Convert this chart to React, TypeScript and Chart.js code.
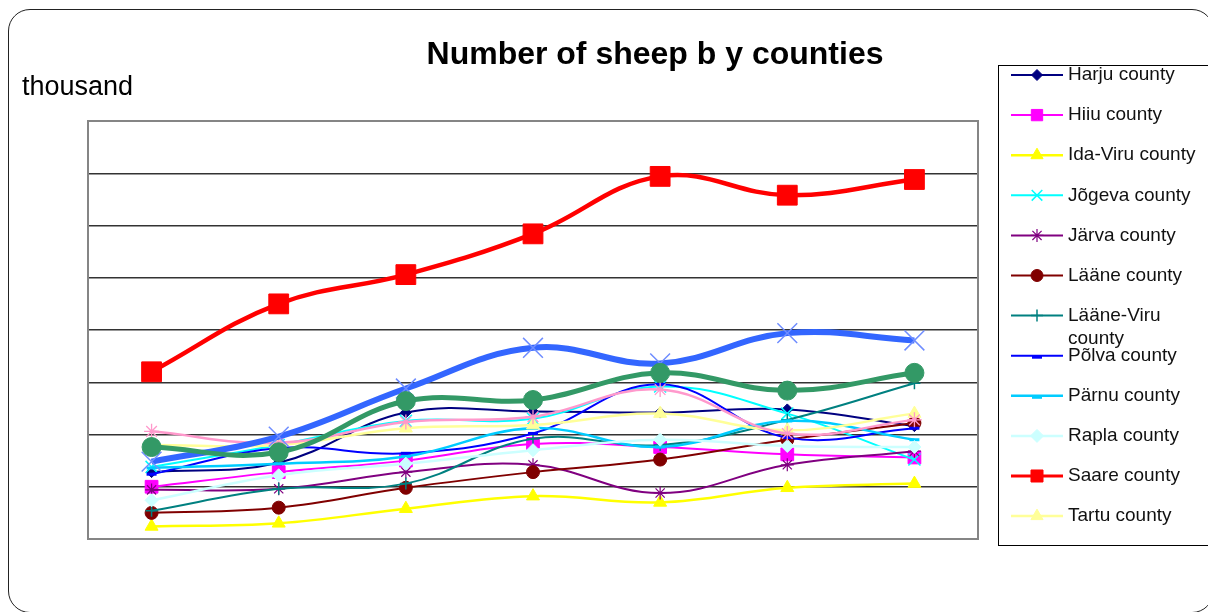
import React, { useEffect, useRef } from "react";
import { Chart, registerables } from "chart.js";
import { drawPoint } from "chart.js/helpers";

Chart.register(...registerables);

// Years of the survey (axis labels are not shown on the chart)
const years = ["2003", "2004", "2005", "2006", "2007", "2008", "2009"];

// Number of sheep, thousand
const harju = [6.4, 7.3, 12.1, 12.2, 12.1, 12.4, 10.8];
const hiiu = [5.0, 6.4, 7.5, 9.1, 8.8, 8.1, 7.8];
const idaViru = [1.2, 1.5, 2.9, 4.1, 3.5, 4.9, 5.3];
const jogeva = [6.9, 9.0, 11.3, 11.5, 14.6, 12.0, 7.6];
const jarva = [4.7, 4.8, 6.4, 7.1, 4.4, 7.1, 8.4];
const laane = [2.5, 3.0, 4.9, 6.4, 7.6, 9.5, 11.1];
const laaneViru = [2.7, 4.8, 5.3, 9.6, 9.0, 11.4, 14.9];
const polva = [6.2, 8.7, 8.2, 10.1, 14.8, 9.7, 10.6];
const parnu = [6.8, 7.2, 7.9, 10.6, 8.8, 11.3, 9.5];
const rapla = [3.7, 6.1, 7.2, 8.5, 9.5, 8.9, 8.8];
const saare = [16.0, 22.5, 25.3, 29.2, 34.7, 32.9, 34.4];
const tartu = [9.0, 9.0, 10.6, 10.9, 12.0, 10.4, 12.0];
const valga = [10.3, 9.2, 11.2, 11.7, 14.3, 10.1, 11.4];
const viljandi = [7.4, 9.8, 14.4, 18.3, 16.8, 19.7, 19.0];
const voru = [8.8, 8.3, 13.2, 13.3, 15.9, 14.2, 15.9];

// y axis range, thousand
const yMin = 0;
const yMax = 40;
const yStep = 5;

const chartTitle = "Number of sheep b y counties";
const unitLabel = "thousand";

type SeriesStyle = {
  label: string;
  data: number[];
  color: string;
  markerColor?: string;
  width: number;
  marker: string;
  radius: number;
  legendRadius: number;
  markerWidth: number;
};

const series: SeriesStyle[] = [
  { label: "Harju county", data: harju, color: "#000080", width: 2, marker: "rectRot", radius: 5.5, legendRadius: 5.5, markerWidth: 1 },
  { label: "Hiiu county", data: hiiu, color: "#FF00FF", width: 2, marker: "rect", radius: 9, legendRadius: 8, markerWidth: 1 },
  { label: "Ida-Viru county", data: idaViru, color: "#FFFF00", width: 2.5, marker: "triangle", radius: 7.5, legendRadius: 7, markerWidth: 1 },
  { label: "Jõgeva county", data: jogeva, color: "#00FFFF", width: 2, marker: "crossRot", radius: 8.5, legendRadius: 7.5, markerWidth: 1.5 },
  { label: "Järva county", data: jarva, color: "#800080", width: 2, marker: "star", radius: 6.5, legendRadius: 6.5, markerWidth: 1.2 },
  { label: "Lääne county", data: laane, color: "#800000", width: 2, marker: "circle", radius: 6.5, legendRadius: 6, markerWidth: 1 },
  { label: "Lääne-Viru county", data: laaneViru, color: "#008080", width: 2, marker: "cross", radius: 6, legendRadius: 6, markerWidth: 1.5 },
  { label: "Põlva county", data: polva, color: "#0000FF", width: 2, marker: "line", radius: 5, legendRadius: 5, markerWidth: 3 },
  { label: "Pärnu county", data: parnu, color: "#00CCFF", width: 2.5, marker: "line", radius: 5, legendRadius: 5, markerWidth: 3 },
  { label: "Rapla county", data: rapla, color: "#CCFFFF", width: 2.5, marker: "rectRot", radius: 6.5, legendRadius: 6.5, markerWidth: 1 },
  { label: "Saare county", data: saare, color: "#FF0000", width: 4.5, marker: "rect", radius: 14, legendRadius: 8.5, markerWidth: 1 },
  { label: "Tartu county", data: tartu, color: "#FFFF99", width: 2.5, marker: "triangle", radius: 7.5, legendRadius: 7, markerWidth: 1 },
  { label: "Valga county", data: valga, color: "#FF99CC", width: 2.5, marker: "star", radius: 7.5, legendRadius: 7, markerWidth: 1.3 },
  { label: "Viljandi county", data: viljandi, color: "#3366FF", markerColor: "#6F8DFF", width: 6, marker: "crossRot", radius: 14, legendRadius: 8, markerWidth: 1.5 },
  { label: "Võru county", data: voru, color: "#339966", width: 5, marker: "circle", radius: 9.5, legendRadius: 7, markerWidth: 1 },
];

// Number of entries that fit inside the legend box
const legendCount = 12;

const FONT = '"Liberation Sans", Arial, Helvetica, sans-serif';

const decorPlugin = {
  id: "decor",
  beforeDatasetsDraw(chart: any) {
    const { ctx, chartArea } = chart;
    ctx.save();
    ctx.strokeStyle = "#858585";
    ctx.lineWidth = 2;
    ctx.strokeRect(chartArea.left, chartArea.top, chartArea.right - chartArea.left, chartArea.bottom - chartArea.top);
    ctx.restore();
  },
  afterDraw(chart: any) {
    const { ctx } = chart;
    ctx.save();
    // title and unit
    ctx.fillStyle = "#000";
    ctx.textBaseline = "alphabetic";
    ctx.textAlign = "center";
    ctx.font = `bold 32px ${FONT}`;
    ctx.fillText(chartTitle, 655, 64);
    ctx.textAlign = "left";
    ctx.font = `27px ${FONT}`;
    ctx.fillText(unitLabel, 22, 95);

    // legend box
    const boxLeft = 998;
    const boxTop = 65;
    const boxBottom = 545;
    ctx.strokeStyle = "#000";
    ctx.lineWidth = 1;
    ctx.strokeRect(boxLeft + 0.5, boxTop + 0.5, 400, boxBottom - boxTop);

    ctx.beginPath();
    ctx.rect(boxLeft + 1, boxTop + 1, 400, boxBottom - boxTop - 2);
    ctx.clip();

    const textX = 1068;
    const maxTextW = 1206 - textX;
    ctx.font = `19px ${FONT}`;
    for (let i = 0; i < Math.min(legendCount, series.length); i++) {
      const s = series[i];
      const y = 75 + i * 40.1;
      ctx.strokeStyle = s.color;
      ctx.lineWidth = Math.min(s.width, 3);
      ctx.beginPath();
      ctx.moveTo(1011, y);
      ctx.lineTo(1063, y);
      ctx.stroke();

      ctx.fillStyle = s.markerColor || s.color;
      ctx.strokeStyle = s.markerColor || s.color;
      ctx.lineWidth = s.markerWidth;
      drawPoint(ctx, { pointStyle: s.marker, rotation: 0, radius: s.legendRadius, borderWidth: s.markerWidth }, 1037, s.marker === "line" ? y + 1.5 : y);

      // wrap long labels onto a second line
      ctx.fillStyle = "#111";
      ctx.textBaseline = "middle";
      const lines: string[] = [];
      if (ctx.measureText(s.label).width > maxTextW && s.label.includes(" ")) {
        const cut = s.label.lastIndexOf(" ");
        lines.push(s.label.slice(0, cut), s.label.slice(cut + 1));
      } else {
        lines.push(s.label);
      }
      lines.forEach((ln, k) => ctx.fillText(ln, textX, y + k * 23));
    }
    ctx.restore();
  },
};

export default function App() {
  const canvasRef = useRef<HTMLCanvasElement | null>(null);

  useEffect(() => {
    const canvas = canvasRef.current;
    if (!canvas) return;
    const n = series.length;
    const chart = new Chart(canvas, {
      type: "line",
      data: {
        labels: years,
        datasets: series.map((s, i) => ({
          label: s.label,
          data: s.data,
          borderColor: s.color,
          backgroundColor: s.markerColor || s.color,
          pointBorderColor: s.markerColor || s.color,
          pointBackgroundColor: s.markerColor || s.color,
          borderWidth: s.width,
          pointStyle: s.marker as any,
          pointRadius: s.radius,
          pointBorderWidth: s.markerWidth,
          tension: 0.4,
          fill: false,
          order: n - i,
        })),
      },
      options: {
        responsive: false,
        animation: false,
        devicePixelRatio: 1,
        layout: { padding: { left: 88, top: 121, right: 230, bottom: 73 } },
        plugins: {
          legend: { display: false },
          title: { display: false },
          tooltip: { enabled: false },
        },
        scales: {
          x: {
            type: "category",
            offset: true,
            display: false,
          },
          y: {
            min: yMin,
            max: yMax,
            display: true,
            border: { display: false },
            ticks: { display: false, stepSize: yStep },
            grid: {
              drawTicks: false,
              lineWidth: 1.5,
              color: (c: any) =>
                c.tick && (c.tick.value === yMin || c.tick.value === yMax) ? "rgba(0,0,0,0)" : "#333333",
            },
          },
        },
      },
      plugins: [decorPlugin],
    });
    return () => chart.destroy();
  }, []);

  return (
    <div style={{ position: "fixed", left: 0, top: 0, width: 1208, height: 612, background: "#fff", overflow: "hidden" }}>
      <canvas ref={canvasRef} width={1208} height={612} style={{ display: "block" }} />
      <div
        style={{
          position: "absolute",
          left: 8,
          top: 9,
          width: 1206,
          height: 604,
          border: "1.5px solid #222",
          borderRadius: 22,
          boxSizing: "border-box",
          pointerEvents: "none",
        }}
      />
    </div>
  );
}
